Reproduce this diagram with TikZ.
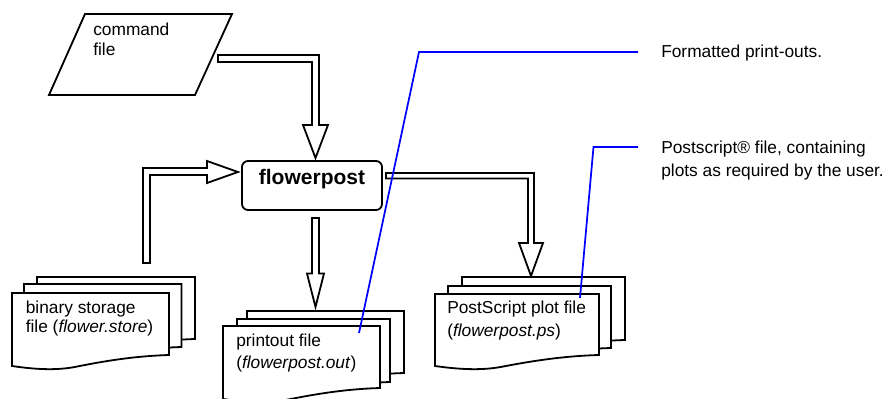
\documentclass[tikz,border=0pt]{standalone}
\usepackage{fontspec}
\setmainfont{Liberation Sans}
\newcommand{\stackdoc}[4]{% left, top, right, bottom-at-right
  \draw[docline] (#1,#2) -- (#3,#2) -- (#3,#4)
    .. controls ({#3-0.2*(#3-#1)},{#4+1}) and ({#3-0.38*(#3-#1)},{#4+5}) .. ({#3-0.6*(#3-#1)},{#4+12})
    .. controls ({#3-0.72*(#3-#1)},{#4+15.5}) and ({#3-0.85*(#3-#1)},{#4+14.5}) .. (#1,{#4+11}) -- cycle;
}
\tikzset{
  blackline/.style={draw=black,line width=1.35pt,miter limit=10},
  docline/.style={blackline,fill=white},
  arrowshape/.style={blackline,fill=white},
  leader/.style={draw=blue,line width=1.3pt},
  lbl/.style={anchor=base west,inner sep=0pt,align=left,font=\fontsize{13}{15}\selectfont},
  procbox/.style={blackline,fill=white,rounded corners=4.5pt,minimum width=105pt,inner xsep=0pt,inner ysep=0pt,
    text height=18pt,text depth=18.75pt,align=center,font=\fontsize{15.75}{18}\selectfont\bfseries}
}
\begin{document}
\begin{tikzpicture}[x=0.75pt,y=-0.75pt]
\path[fill=white,use as bounding box] (0,0) rectangle (886,399);
\clip (0,0) rectangle (886,399);
% command file
\draw[docline] (85,14) -- (232,14) -- (195,95) -- (49,95) -- cycle;
\node[lbl] (cmd) at (93,56) {command\\[0pt]file};
% process
\node[procbox] (flower) at (312,185.5) {flowerpost};
% block arrows
\draw[arrowshape] (218,55) -- (319,55) -- (319,125) -- (328,125) -- (315.5,158) -- (303,125) -- (312,125) -- (312,62) -- (218,62) -- cycle;
\draw[arrowshape] (143,263) -- (143,168) -- (207,168) -- (207,161) -- (238,172) -- (207,183) -- (207,175) -- (150,175) -- (150,263) -- cycle;
\draw[arrowshape] (312,218) -- (319,218) -- (319,273.5) -- (324,273.5) -- (315.5,307) -- (307,273.5) -- (312,273.5) -- cycle;
\draw[arrowshape] (386,173) -- (534,173) -- (534,243) -- (543,243) -- (531,276) -- (519,243) -- (528,243) -- (528,178.5) -- (386,178.5) -- cycle;
% binary storage file
\stackdoc{37}{277}{195}{339}
\stackdoc{24}{284}{181.5}{347}
\stackdoc{12}{293}{169}{355}
\node[lbl] (store) at (25.5,332) {binary storage\\[-0.75pt]file (\textit{flower.store})};
% printout file
\stackdoc{247}{311}{404}{373}
\stackdoc{237}{319}{390}{382}
\stackdoc{223}{326}{380}{388}
\node[lbl] (out) at (236,368) {printout file\\[1.5pt](\textit{flowerpost.out})};
% PostScript plot file
\stackdoc{462}{277}{625}{340}
\stackdoc{448}{286}{611}{348}
\stackdoc{435}{294}{599}{355}
\node[lbl] (ps) at (447,336) {PostScript plot file\\[2.25pt](\textit{flowerpost.ps})};
% notes
\node[lbl] (noteA) at (661,58) {Formatted print-outs.};
\node[lbl] (noteB) at (661,177) {Postscript® file, containing\\[2.25pt]plots as required by the user.};
% leaders
\coordinate (aFoot) at (359,333);
\coordinate (aKnee) at (419,52);
\coordinate (aEnd) at (638,52);
\coordinate (bFoot) at (580,298);
\coordinate (bKnee) at (593.5,147);
\coordinate (bEnd) at (638,147);
\draw[leader] (aFoot) -- (aKnee) -- (aEnd);
\draw[leader] (bFoot) -- (bKnee) -- (bEnd);
\end{tikzpicture}
\end{document}
